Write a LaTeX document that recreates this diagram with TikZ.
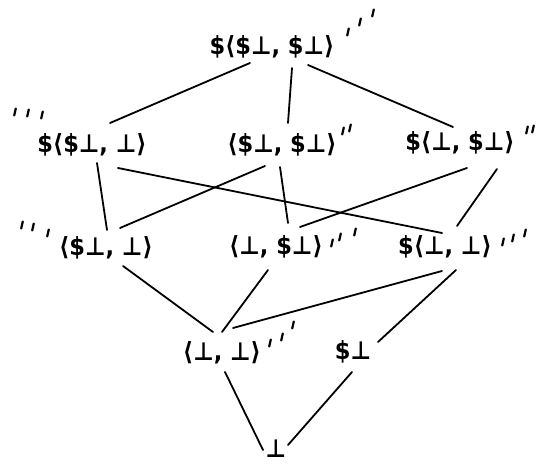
\documentclass[tikz,border=0pt]{standalone}
\usepackage{fontspec}
\newfontfamily\lblfont{DejaVu Sans Condensed}[BoldFont={DejaVu Sans Condensed Bold}]
\usetikzlibrary{calc}
\begin{document}
\begin{tikzpicture}[x=1pt,y=-1pt,
  lbl/.style={inner sep=0pt, font=\lblfont\bfseries\fontsize{25}{29}\selectfont},
  edge/.style={line width=1.8pt, line cap=round},
  tick/.style={line width=2.2pt, line cap=round}]
\useasboundingbox (0,0) rectangle (542,465);
\fill[white] (0,0) rectangle (542,465);
% nodes
\node[lbl] (T)  at (272,47)  {\$⟨\$⊥, \$⊥⟩};
\node[lbl] (L1) at (92,145)  {\$⟨\$⊥, ⊥⟩};
\node[lbl] (M1) at (282,145) {⟨\$⊥, \$⊥⟩};
\node[lbl] (R1) at (460,143) {\$⟨⊥, \$⊥⟩};
\node[lbl] (L2) at (106,248) {⟨\$⊥, ⊥⟩};
\node[lbl] (M2) at (276,247) {⟨⊥, \$⊥⟩};
\node[lbl] (R2) at (445,247) {\$⟨⊥, ⊥⟩};
\node[lbl] (B1) at (222,353) {⟨⊥, ⊥⟩};
\node[lbl] (B2) at (353,352) {\$⊥};
\node[lbl] (Bot) at (276,449) {⊥};
% edges
\draw[edge] ($(T)+(-22,16)$) -- ($(L1)+(18,-22)$);
\draw[edge] ($(T)+(20,21)$)  -- ($(M1)+(6,-22)$);
\draw[edge] ($(T)+(36,18)$)  -- ($(R1)+(-7,-16)$);
\draw[edge] ($(L1)+(5,18)$)  -- ($(L2)+(1,-18)$);
\draw[edge] ($(L1)+(26,23)$) -- ($(R2)+(-3,-14)$);
\draw[edge] ($(M1)+(-17,21)$) -- ($(L2)+(14,-20)$);
\draw[edge] ($(M1)+(-2,22)$) -- ($(M2)+(12,-24)$);
\draw[edge] ($(R1)+(7,25)$)  -- ($(M2)+(24,-20)$);
\draw[edge] ($(R1)+(37,26)$) -- ($(R2)+(12,-21)$);
\draw[edge] ($(L2)+(17,18)$) -- ($(B1)+(-9,-21)$);
\draw[edge] ($(M2)+(-8,23)$) -- ($(B1)+(0,-21)$);
\draw[edge] ($(R2)+(-3,24)$) -- ($(B1)+(11,-25)$);
\draw[edge] ($(R2)+(11,23)$) -- ($(B2)+(25,-10)$);
\draw[edge] ($(B1)+(3,19)$)  -- ($(Bot)+(-13,1)$);
\draw[edge] ($(B2)+(-1,20)$) -- ($(Bot)+(12,-4)$);
% tick marks
\foreach \n/\dx/\dy in {T/76/-15,T/88/-25,T/101/-34,
  L1/-77/-33,L1/-64/-32,L1/-50/-30,
  M1/61/-14,M1/68/-17,
  R1/67/-13,R1/73/-14,
  L2/-84/-23,L2/-73/-21,L2/-58/-15,
  M2/56/-4,M2/64/-10,M2/79/-15,
  R2/58/-5,R2/68/-9,R2/80/-14,
  B1/48/-10,B1/60/-16,B1/71/-28}
  \draw[tick] ($(\n)+(\dx,\dy)+(0.8,-3.5)$) -- ++(-1.6,7);
\end{tikzpicture}
\end{document}
